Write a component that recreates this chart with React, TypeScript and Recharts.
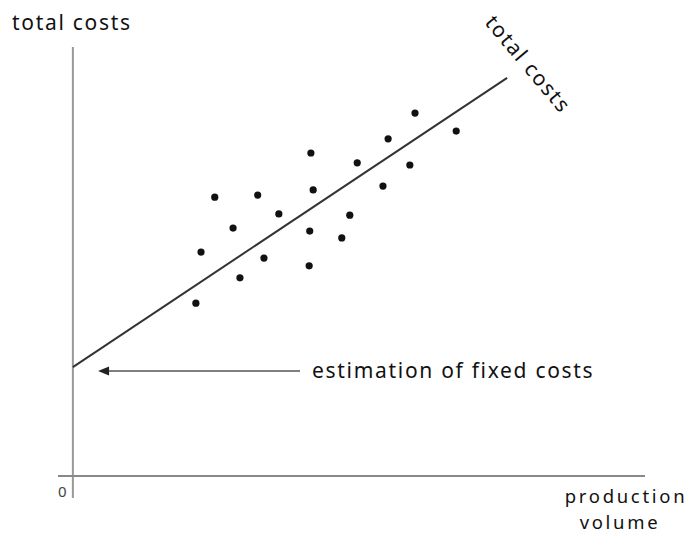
import React from 'react'
import { ScatterChart, Scatter, XAxis, YAxis, ReferenceLine } from 'recharts'

const xs = [24.8, 32.3, 41.6, 49.7, 55.1, 59.8, 67.0, 58.9, 54.2, 42.0, 36.0, 48.4, 28.0, 41.4, 47.0, 22.4, 33.4, 41.3, 29.2, 21.5]
const ys = [65.0, 65.5, 75.3, 73.0, 78.6, 84.6, 80.4, 72.5, 67.6, 66.7, 61.1, 60.8, 57.8, 57.1, 55.5, 52.2, 50.8, 49.0, 46.2, 40.3]
const trendX = [0, 75.9]
const trendY = [25.4, 92.8]
const arrowX = [4.4, 39.7]
const arrowY = 24.5

const points = xs.map((x, i) => ({ x, y: ys[i] }))

const font = '"Noto Sans", sans-serif'
const textStyle = { fontFamily: font, fontSize: 21, letterSpacing: 1.7, fill: '#111' }
const axisTitle = { fontFamily: font, fontSize: 18.5, letterSpacing: 2.7, fill: '#111' }

function Dot(props: any) {
  return <circle cx={props.cx} cy={props.cy} r={3.6} fill="#111" />
}

function Arrow(props: any) {
  const { x1, y1, x2, y2 } = props
  return (
    <g>
      <line x1={x1 + 6} y1={y1} x2={x2} y2={y2} stroke="#555" strokeWidth={1.3} />
      <polygon points={`${x1},${y1} ${x1 + 11},${y1 - 4.5} ${x1 + 11},${y1 + 4.5}`} fill="#222" />
    </g>
  )
}

export default function App() {
  return (
    <div style={{ position: 'absolute', left: 0, top: 0, width: 692, height: 534, background: '#fff' }}>
      <ScatterChart width={692} height={534} margin={{ top: 47, right: 47, bottom: 36, left: 58 }}>
        <XAxis type="number" dataKey="x" domain={[-2.6, 100]} hide allowDataOverflow />
        <YAxis type="number" dataKey="y" domain={[-5.1, 100]} hide allowDataOverflow />
        <ReferenceLine x={0} stroke="#999" strokeWidth={2} />
        <ReferenceLine y={0} stroke="#888" strokeWidth={2} />
        <ReferenceLine
          segment={[{ x: trendX[0], y: trendY[0] }, { x: trendX[1], y: trendY[1] }]}
          stroke="#333"
          strokeWidth={2}
        />
        <ReferenceLine
          segment={[{ x: arrowX[0], y: arrowY }, { x: arrowX[1], y: arrowY }]}
          shape={<Arrow />}
        />
        <Scatter data={points} shape={<Dot />} isAnimationActive={false} />
      </ScatterChart>
      <svg width={692} height={534} style={{ position: 'absolute', left: 0, top: 0, pointerEvents: 'none' }}>
        <text x={12} y={30} style={textStyle}>total costs</text>
        <text x={484} y={23} transform="rotate(50 484 23)" style={textStyle}>total costs</text>
        <text x={312} y={378} style={textStyle}>estimation of fixed costs</text>
        <text x={58} y={497} style={{ fontFamily: font, fontSize: 15, fill: '#444' }}>0</text>
        <text x={626} y={503} textAnchor="middle" style={axisTitle}>production</text>
        <text x={620} y={529} textAnchor="middle" style={axisTitle}>volume</text>
      </svg>
    </div>
  )
}
